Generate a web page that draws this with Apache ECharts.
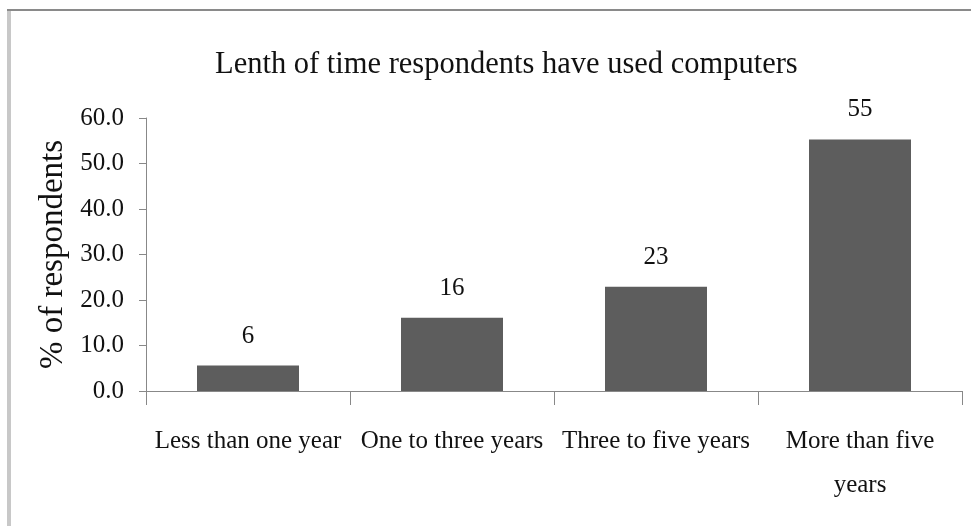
<!DOCTYPE html>
<html>
<head>
<meta charset="utf-8">
<script src="https://cdn.jsdelivr.net/npm/echarts@6/dist/echarts.min.js"></script>
<style>
html,body{margin:0;padding:0;background:#fff;}
#chart{width:971px;height:526px;}
</style>
</head>
<body>
<div id="chart"></div>
<script>
var titleText = 'Lenth of time respondents have used computers';
var yAxisName = '% of respondents';
var categories = ['Less than one year', 'One to three years', 'Three to five years', 'More than five\nyears'];
var values = [5.6, 16.1, 22.9, 55.3];
var yMin = 0, yMax = 60, yStep = 10;

var serif = '"Liberation Serif", "DejaVu Serif", serif';
var chart = echarts.init(document.getElementById('chart'));
chart.setOption({
  backgroundColor: '#fff',
  animation: false,
  title: {
    text: titleText,
    left: 210,
    top: 44,
    textStyle: { fontFamily: serif, fontSize: 30.5, fontWeight: 'normal', color: '#111' }
  },
  graphic: [
    { type: 'line', shape: { x1: 7, y1: 10, x2: 971, y2: 10 }, style: { stroke: '#8a8a8a', lineWidth: 2 } },
    { type: 'line', shape: { x1: 9, y1: 11, x2: 9, y2: 526 }, style: { stroke: '#c8c8c8', lineWidth: 4 } }
  ],
  grid: { left: 146, right: 9, top: 118, bottom: 135 },
  xAxis: {
    type: 'category',
    data: categories,
    axisLine: { lineStyle: { color: '#888', width: 1 } },
    axisTick: { show: true, length: 14, alignWithLabel: false, lineStyle: { color: '#888' } },
    axisLabel: { fontFamily: serif, fontSize: 25, color: '#111', margin: 28, lineHeight: 44, interval: 0 }
  },
  yAxis: {
    type: 'value',
    min: yMin, max: yMax, interval: yStep,
    name: yAxisName,
    nameLocation: 'middle',
    nameGap: 76,
    nameRotate: 90,
    nameTextStyle: { fontFamily: serif, fontSize: 33, color: '#111' },
    axisLine: { show: true, lineStyle: { color: '#888', width: 1 } },
    axisTick: { show: true, length: 7, lineStyle: { color: '#888' } },
    splitLine: { show: false },
    axisLabel: {
      fontFamily: serif, fontSize: 25, color: '#111', margin: 22,
      formatter: function (v) { return v.toFixed(1); }
    }
  },
  series: [{
    type: 'bar',
    data: values,
    barWidth: '50%',
    itemStyle: { color: '#5d5d5d' },
    label: {
      show: true,
      position: 'top',
      distance: 17,
      fontFamily: serif,
      fontSize: 25,
      color: '#111',
      formatter: function (p) { return Math.round(p.value).toString(); }
    }
  }]
});
</script>
</body>
</html>
